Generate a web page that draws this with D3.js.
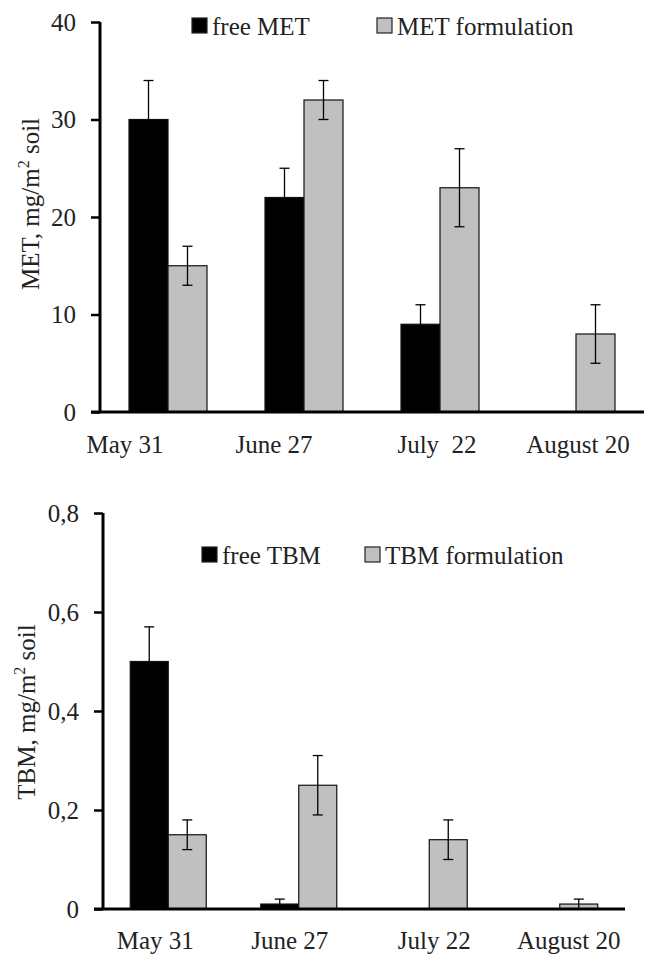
<!DOCTYPE html>
<html><head><meta charset="utf-8">
<script src="https://cdn.jsdelivr.net/npm/d3@7"></script>
<style>
html,body{margin:0;padding:0;background:#fff;}
svg{display:block;}
svg text{font-family:'Liberation Serif','Times New Roman',Times,serif !important;}
</style></head>
<body>
<svg id="chart" width="646" height="956"></svg>
<script>
// ---- data ----
const categoriesMET = ["May 31", "June 27", "July  22", "August 20"];
const freeMET = [30, 22, 9, null];
const freeMETErr = [4, 3, 2, null];
const formMET = [15, 32, 23, 8];
const formMETErr = [2, 2, 4, 3];
const ticksMET = [0, 10, 20, 30, 40];

const categoriesTBM = ["May 31", "June 27", "July 22", "August 20"];
const freeTBM = [0.5, 0.01, null, null];
const freeTBMErr = [0.07, 0.01, null, null];
const formTBM = [0.15, 0.25, 0.14, 0.01];
const formTBMErr = [0.03, 0.06, 0.04, 0.01];
const ticksTBM = [0, 0.2, 0.4, 0.6, 0.8];

const svg = d3.select("#chart");
const FS = 25;

function drawPanel(o) {
  const g = svg.append("g");
  const x = d3.scaleBand().domain(o.cats).range([o.x0, o.x1]).paddingInner(0).paddingOuter(0);
  const y = d3.scaleLinear().domain([0, o.ymax]).range([o.yb, o.yt]);
  const inner = d3.scaleBand().domain(["free", "form"]).range([0, o.barW * 2]);
  const off = (x.bandwidth() - o.barW * 2) / 2;

  const series = [
    {key: "free", vals: o.free, errs: o.freeErr, fill: "#000"},
    {key: "form", vals: o.form, errs: o.formErr, fill: "#c0c0c0"}
  ];
  series.forEach(s => {
    const pts = o.cats.map((c, i) => ({c, v: s.vals[i], e: s.errs[i]})).filter(d => d.v != null);
    g.selectAll(null).data(pts).enter().append("rect")
      .attr("x", d => x(d.c) + off + inner(s.key))
      .attr("width", inner.bandwidth())
      .attr("y", d => y(d.v))
      .attr("height", d => y(0) - y(d.v))
      .attr("fill", s.fill)
      .attr("stroke", "#111").attr("stroke-width", 1.2);
    const cx = d => x(d.c) + off + inner(s.key) + inner.bandwidth() / 2;
    const eg = g.selectAll(null).data(pts.filter(d => d.e != null)).enter().append("g")
      .attr("stroke", "#000").attr("stroke-width", 1.3);
    eg.append("line").attr("x1", cx).attr("x2", cx)
      .attr("y1", d => y(d.v + d.e)).attr("y2", d => y(Math.max(0, d.v - d.e)));
    eg.append("line").attr("x1", d => cx(d) - 5).attr("x2", d => cx(d) + 5)
      .attr("y1", d => y(d.v + d.e)).attr("y2", d => y(d.v + d.e));
    eg.filter(d => d.v - d.e > 0).append("line").attr("x1", d => cx(d) - 5).attr("x2", d => cx(d) + 5)
      .attr("y1", d => y(d.v - d.e)).attr("y2", d => y(d.v - d.e));
  });

  // y axis
  const ya = d3.axisLeft(y).tickValues(o.ticks).tickSize(9).tickPadding(15)
    .tickFormat(o.fmt);
  const yg = g.append("g").attr("transform", `translate(${o.x0},0)`).call(ya);
  yg.select(".domain").attr("stroke", "#000").attr("stroke-width", 3)
    .attr("d", `M0,${o.yb}V${o.yt}`);
  yg.selectAll(".tick line").attr("stroke", "#000").attr("stroke-width", 2.5);
  yg.selectAll(".tick text").attr("font-size", FS).attr("fill", "#222");

  // x axis
  const xa = d3.axisBottom(x).tickSize(0).tickPadding(0);
  const xg = g.append("g").attr("transform", `translate(0,${o.yb})`).call(xa);
  xg.select(".domain").attr("stroke", "#000").attr("stroke-width", 3)
    .attr("d", `M${o.x0 - 9},0H${o.x1}`);
  xg.selectAll(".tick text").attr("font-size", FS).attr("fill", "#222")
    .attr("dy", 0).attr("y", o.labelY)
    .attr("dx", (d, i) => o.labelShift[i])
    .style("white-space", "pre").attr("xml:space", "preserve");

  // y title
  const t = g.append("text")
    .attr("transform", `translate(${o.titleX},${o.titleY}) rotate(-90)`)
    .attr("text-anchor", "middle").attr("font-size", FS).attr("fill", "#222");
  t.append("tspan").text(o.title1);
  t.append("tspan").text("2").attr("font-size", 16).attr("dy", -10);
  t.append("tspan").text(" soil").attr("dy", 10);

  // legend
  o.legend.forEach((L, i) => {
    g.append("rect").attr("x", L.x).attr("y", o.legY - 17).attr("width", 15).attr("height", 15)
      .attr("fill", i === 0 ? "#000" : "#c0c0c0").attr("stroke", "#222").attr("stroke-width", 1.2);
    g.append("text").attr("x", L.x + 20).attr("y", o.legY).attr("font-size", FS).attr("fill", "#222")
      .text(L.text);
  });
}

drawPanel({
  cats: categoriesMET, free: freeMET, freeErr: freeMETErr, form: formMET, formErr: formMETErr,
  ticks: ticksMET, ymax: 40, fmt: d3.format("d"),
  x0: 100, x1: 644, yb: 412, yt: 22, barW: 39,
  labelY: 41, labelShift: [-43, -30, -3, 2],
  title1: "MET, mg/m", titleX: 39, titleY: 204,
  legY: 35, legend: [{x: 192, text: "free MET"}, {x: 377, text: "MET formulation"}]
});

drawPanel({
  cats: categoriesTBM, free: freeTBM, freeErr: freeTBMErr, form: formTBM, formErr: formTBMErr,
  ticks: ticksTBM, ymax: 0.8, fmt: d => d === 0 ? "0" : d3.format(".1f")(d).replace(".", ","),
  x0: 103, x1: 625, yb: 909, yt: 513, barW: 38,
  labelY: 40, labelShift: [-13, -9, 5, 9],
  title1: "TBM, mg/m", titleX: 35, titleY: 712,
  legY: 564, legend: [{x: 202, text: "free TBM"}, {x: 365, text: "TBM formulation"}]
});
</script>
</body></html>
